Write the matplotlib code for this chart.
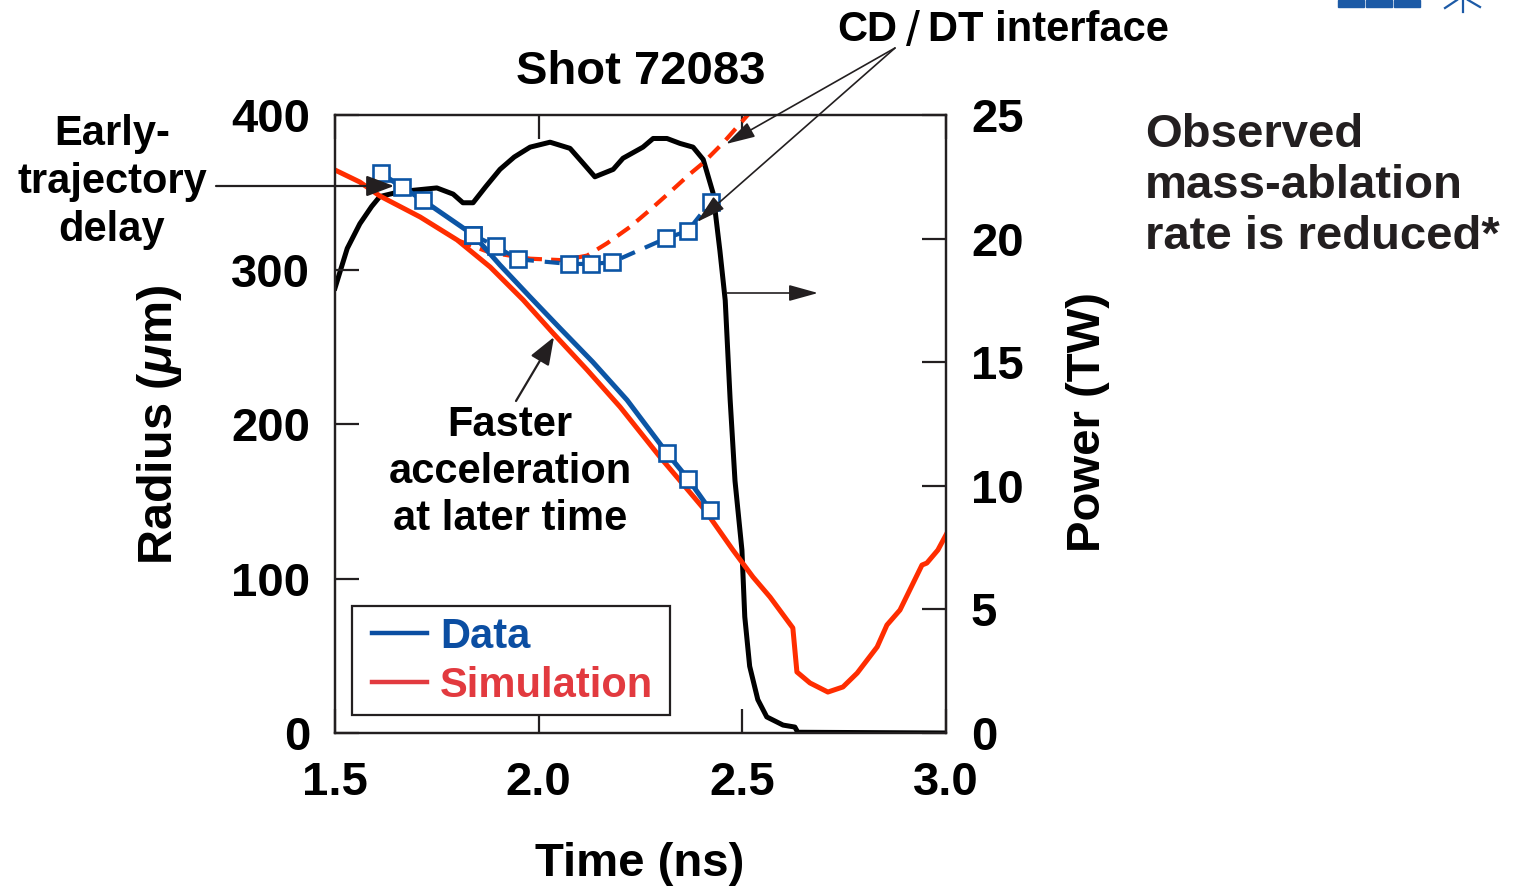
import matplotlib
matplotlib.use("Agg")
import matplotlib.pyplot as plt
from matplotlib.lines import Line2D
from matplotlib.patches import Rectangle

plt.rcParams['font.family'] = ['Liberation Sans', 'DejaVu Sans']
plt.rcParams['font.weight'] = 'bold'
plt.rcParams['mathtext.fontset'] = 'custom'
plt.rcParams['mathtext.rm'] = 'Liberation Sans:bold'
plt.rcParams['mathtext.it'] = 'Liberation Sans:italic:bold'

# laser power (TW), right axis
power_t = [1.500, 1.530, 1.561, 1.590, 1.610, 1.660, 1.750, 1.790, 1.814, 1.839,
           1.870, 1.905, 1.940, 1.979, 2.028, 2.077, 2.109, 2.138, 2.183, 2.207,
           2.256, 2.281, 2.315, 2.347, 2.379, 2.404, 2.428, 2.445, 2.458, 2.470,
           2.482, 2.499, 2.506, 2.518, 2.538, 2.560, 2.600, 2.629, 2.636, 3.000]
power_tw = [18.0, 19.6, 20.6, 21.3, 21.7, 21.9, 22.05, 21.8, 21.45, 21.45,
            22.1, 22.8, 23.3, 23.7, 23.9, 23.65, 23.05, 22.5, 22.8, 23.25,
            23.7, 24.05, 24.05, 23.85, 23.7, 23.2, 21.85, 19.5, 17.5, 13.5,
            10.2, 7.4, 4.7, 2.7, 1.35, 0.65, 0.32, 0.24, 0.03, 0.0]

# simulated outer trajectory (um)
sim_t = [1.500, 1.561, 1.610, 1.709, 1.800, 1.881, 1.962, 2.035, 2.119, 2.200,
         2.298, 2.408, 2.477, 2.526, 2.568, 2.624, 2.634, 2.666, 2.710, 2.747,
         2.782, 2.831, 2.855, 2.887, 2.941, 2.953, 2.980, 3.000]
sim_r = [364.4, 356.6, 347.6, 334.0, 319.1, 301.6, 280.3, 258.9, 235.0, 211.0,
         178.6, 144.3, 118.4, 101.0, 88.0, 68.0, 39.5, 32.4, 26.5, 29.8,
         38.8, 55.7, 69.9, 79.6, 108.7, 110.0, 118.4, 128.2]

# simulated CD/DT interface (um)
sim_cddt_t = [1.800, 1.880, 1.979, 2.060, 2.119, 2.168, 2.224, 2.273, 2.322, 2.372,
              2.404, 2.453, 2.520]
sim_cddt_r = [319.0, 311.0, 307.0, 306.0, 309.0, 317.0, 327.5, 338.5, 350.0, 362.0,
              369.0, 382.0, 402.0]

# measured outer trajectory (um) and fitted curve through it
data_t = [1.612, 1.664, 1.715, 1.840, 2.315, 2.367, 2.421]
data_r = [362.3, 353.5, 345.0, 322.3, 181.2, 164.4, 144.3]
fit_t = [1.612, 1.664, 1.715, 1.840, 1.905, 1.979, 2.052, 2.133, 2.217, 2.315, 2.367, 2.421]
fit_r = [362.3, 353.5, 345.0, 322.3, 302.9, 282.2, 262.1, 240.1, 215.5, 181.2, 164.4, 144.3]

# measured CD/DT interface (um)
data_cddt_t = [1.840, 1.895, 1.950, 2.075, 2.129, 2.180, 2.313, 2.366, 2.423]
data_cddt_r = [322.3, 315.0, 306.6, 303.6, 303.6, 304.7, 320.2, 325.0, 344.0]

legend_labels = ['Data', 'Simulation']
legend_colors = ['#0b4ea2', '#e23a3f']

BLUE = '#0c55a5'
RED = '#ff2d00'
INK = '#231f20'
W, H = 1515, 888


def fp(x, y):
    # pixel position (top-left origin) -> figure fraction
    return x / W, 1 - y / H


fig = plt.figure(figsize=(W / 100, H / 100), dpi=100)
ax = fig.add_axes([335 / W, 1 - 733 / H, 611 / W, 618 / H])
ax2 = ax.twinx()
ax.set_zorder(ax2.get_zorder() + 1)
ax.patch.set_visible(False)

ax2.plot(power_t, power_tw, color='black', lw=3.6, solid_joinstyle='round')
ax.plot(sim_t, sim_r, color=RED, lw=3.6, solid_joinstyle='round')
ax.plot(sim_cddt_t, sim_cddt_r, color=RED, lw=3.0, dashes=(3.6, 2.2))
ax.plot(fit_t, fit_r, color=BLUE, lw=3.6, solid_joinstyle='round')
ax.plot(data_cddt_t, data_cddt_r, color=BLUE, lw=3.0, dashes=(3.6, 2.6))
ax.plot(data_t, data_r, ls='none', marker='s', ms=11.5, mfc='white', mec=BLUE, mew=1.9)
ax.plot(data_cddt_t, data_cddt_r, ls='none', marker='s', ms=11.5, mfc='white', mec=BLUE, mew=1.9)

ax.set_xlim(1.5, 3.0)
ax.set_ylim(0, 400)
ax2.set_ylim(0, 25)
ax.set_xticks([1.5, 2.0, 2.5, 3.0])
ax.set_xticklabels(['1.5', '2.0', '2.5', '3.0'])
ax.set_yticks([0, 100, 200, 300, 400])
ax2.set_yticks([0, 5, 10, 15, 20, 25])

for a in (ax, ax2):
    for s in a.spines.values():
        s.set_linewidth(1.6)
        s.set_color(INK)
ax.tick_params(axis='x', direction='in', top=True, length=17, width=1.6,
               color=INK, labelsize=34, pad=20)
ax.tick_params(axis='y', direction='in', length=17, width=1.6,
               color=INK, labelsize=34, pad=18)
ax2.tick_params(axis='y', direction='in', length=17, width=1.6,
                color=INK, labelsize=34, pad=18)

fig.text(*fp(160, 425), r'Radius ($\mu$m)', rotation=90, ha='center', va='center', fontsize=35)
fig.text(*fp(1088, 422), 'Power (TW)', rotation=90, ha='center', va='center', fontsize=34)
fig.text(*fp(640, 864), 'Time (ns)', ha='center', va='center', fontsize=34)
fig.text(*fp(641, 72), 'Shot 72083', ha='center', va='center', fontsize=34)

fig.text(*fp(112, 182), 'Early-\ntrajectory\ndelay', ha='center', va='center',
         fontsize=30, linespacing=1.25)
fig.text(*fp(510, 472), 'Faster\nacceleration\nat later time', ha='center', va='center',
         fontsize=30, linespacing=1.24)
fig.text(*fp(1145, 186), 'Observed\nmass-ablation\nrate is reduced*', ha='left', va='center',
         fontsize=34, linespacing=1.2, color=INK)

fig.text(*fp(897, 30), 'CD', ha='right', va='center', fontsize=30)
fig.text(*fp(913, 33), '/', ha='center', va='center', fontsize=36, fontweight='normal')
fig.text(*fp(928, 30), 'DT interface', ha='left', va='center', fontsize=30)

arrow = dict(arrowstyle='-|>,head_length=0.85,head_width=0.32', color=INK,
             lw=1.6, shrinkA=0, shrinkB=0, mutation_scale=20)
thin = dict(arrowstyle='-|>,head_length=0.9,head_width=0.25', color=INK,
            lw=1.2, shrinkA=0, shrinkB=0, mutation_scale=20)
ax.annotate('', xy=fp(394, 186), xytext=fp(216, 186),
            xycoords='figure fraction', textcoords='figure fraction', arrowprops=arrow)
ax.annotate('', xy=fp(554, 337), xytext=fp(516, 401),
            xycoords='figure fraction', textcoords='figure fraction', arrowprops=arrow)
ax.annotate('', xy=fp(818, 293), xytext=fp(727, 293),
            xycoords='figure fraction', textcoords='figure fraction', arrowprops=thin)
ax.annotate('', xy=fp(726, 144), xytext=fp(895, 48),
            xycoords='figure fraction', textcoords='figure fraction', arrowprops=thin)
ax.annotate('', xy=fp(697, 222), xytext=fp(895, 48),
            xycoords='figure fraction', textcoords='figure fraction', arrowprops=thin)

# legend box drawn by hand so its padding can be set exactly
fig.patches.append(Rectangle(fp(352, 715), 318 / W, 109 / H, transform=fig.transFigure,
                             facecolor='white', edgecolor=INK, lw=1.6))
for i, (lab, col) in enumerate(zip(legend_labels, legend_colors)):
    yc = 633 + 49 * i
    fig.lines.append(Line2D([372 / W, 427 / W], [1 - yc / H] * 2,
                            transform=fig.transFigure, color=col, lw=3.2))
    fig.text(*fp(440, yc + 15), lab, ha='left', va='baseline', fontsize=30, color=col)

# corner logo
logo = '#1c5aa6'
for x0, x1 in [(1338, 1364), (1366, 1392), (1394, 1420)]:
    fig.patches.append(Rectangle(fp(x0, 7), (x1 - x0) / W, 7 / H,
                                 transform=fig.transFigure, color=logo))
for (x0, y0), (x1, y1) in [((1463, 0), (1463, 12)), ((1457, 0), (1445, 8)),
                           ((1468, 0), (1480, 7))]:
    fig.lines.append(Line2D([x0 / W, x1 / W], [1 - y0 / H, 1 - y1 / H],
                            transform=fig.transFigure, color=logo, lw=1.6))

fig.savefig('out.png', dpi=100)
